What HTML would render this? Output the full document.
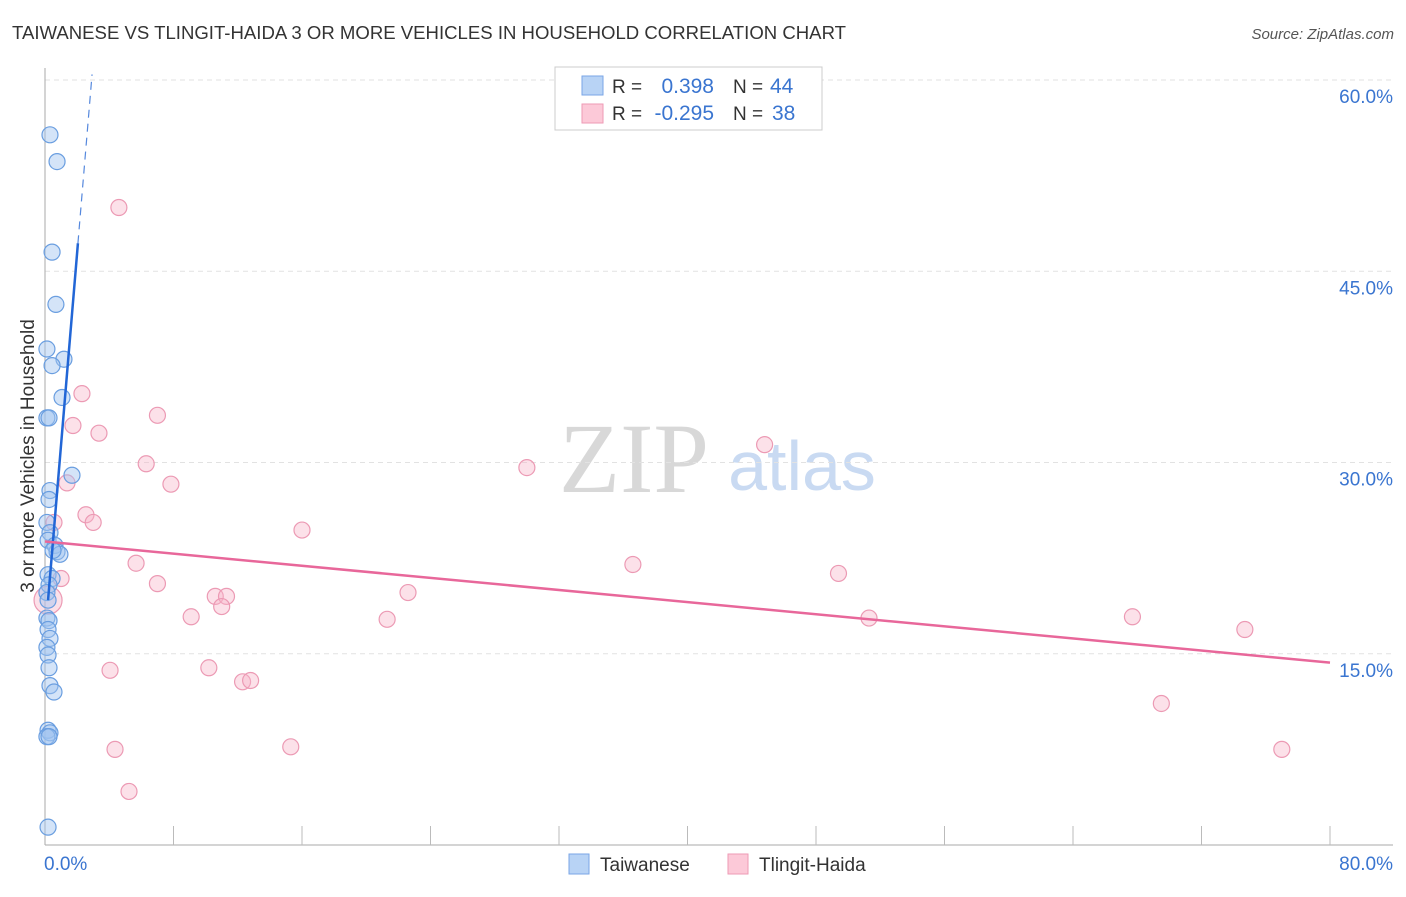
<!DOCTYPE html>
<html><head><meta charset="utf-8"><style>
body{margin:0;background:#fff;font-family:"Liberation Sans",sans-serif;}
</style></head><body>
<svg id="c" width="1406" height="892" xmlns="http://www.w3.org/2000/svg" font-family="Liberation Sans, sans-serif">
<text x="12" y="39" font-size="18" fill="#333" textLength="834" lengthAdjust="spacingAndGlyphs">TAIWANESE VS TLINGIT-HAIDA 3 OR MORE VEHICLES IN HOUSEHOLD CORRELATION CHART</text>
<text x="1394" y="39" font-size="15" fill="#555" font-style="italic" text-anchor="end">Source: ZipAtlas.com</text>
<text x="634" y="492" font-size="100" fill="#d8d8d8" style="font-family:'Liberation Serif',serif" text-anchor="middle">ZIP</text>
<text x="802" y="490" font-size="70" fill="#c9daf2" text-anchor="middle">atlas</text>
<text transform="translate(34,456) rotate(-90)" font-size="19" fill="#333" text-anchor="middle">3 or more Vehicles in Household</text>
<g id="grid"></g><g id="marks"></g>
<g>
<rect x="555" y="67" width="267" height="63" fill="#fff" stroke="#ccc"/>
<rect x="582" y="76" width="21" height="19" fill="#b8d3f5" stroke="#7aa6e6"/>
<rect x="582" y="104" width="21" height="19" fill="#fcc9d8" stroke="#ee9ab5"/>
<text x="612" y="93" font-size="19" fill="#333">R =</text><text x="714" y="93" font-size="21" fill="#3a75d0" text-anchor="end">0.398</text>
<text x="733" y="93" font-size="19" fill="#333">N =</text><text x="770" y="93" font-size="21" fill="#3a75d0">44</text>
<text x="612" y="120" font-size="19" fill="#333">R =</text><text x="714" y="120" font-size="21" fill="#3a75d0" text-anchor="end">-0.295</text>
<text x="733" y="120" font-size="19" fill="#333">N =</text><text x="772" y="120" font-size="21" fill="#3a75d0">38</text>
</g>
<g>
<rect x="569" y="854" width="20" height="20" fill="#b8d3f5" stroke="#7aa6e6"/>
<text x="600" y="871" font-size="19" fill="#333">Taiwanese</text>
<rect x="728" y="854" width="20" height="20" fill="#fcc9d8" stroke="#ee9ab5"/>
<text x="759" y="871" font-size="19" fill="#333">Tlingit-Haida</text>
</g>
</svg>
<script>
const yTicks=[15,30,45,60];
const xTickLabels=["0.0%","80.0%"];
const blueX=[0.31,0.75,0.44,0.68,0.12,1.18,0.44,1.06,0.12,0.25,1.68,0.31,0.25,0.12,0.31,0.19,0.62,0.75,0.93,0.5,0.19,0.44,0.25,0.12,0.19,0.12,0.25,0.19,0.31,0.12,0.19,0.25,0.31,0.56,0.19,0.31,0.12,0.25,0.19];
const blueY=[55.7,53.6,46.5,42.4,38.9,38.1,37.6,35.1,33.5,33.5,29.0,27.8,27.1,25.3,24.5,23.9,23.5,23.0,22.8,23.1,21.2,20.9,20.4,19.8,19.2,17.8,17.6,16.9,16.2,15.5,14.9,13.9,12.5,12.0,9.0,8.8,8.5,8.5,1.4];
const pinkX=[4.6,2.3,7.0,1.74,3.36,44.8,6.3,30.0,1.37,7.84,2.55,0.56,3.0,16.0,5.67,36.6,49.4,1.0,7.0,22.6,10.6,11.3,11.0,0.19,9.1,21.3,51.3,67.7,74.7,4.05,10.2,12.3,12.8,69.5,15.3,4.36,77.0,5.23];
const pinkY=[50.0,35.4,33.7,32.9,32.3,31.4,29.9,29.6,28.4,28.3,25.9,25.3,25.3,24.7,22.1,22.0,21.3,20.9,20.5,19.8,19.5,19.5,18.7,19.2,17.9,17.7,17.8,17.9,16.9,13.7,13.9,12.8,12.9,11.1,7.7,7.5,7.5,4.2];
const blueTrend=[19.2,15.05];
const blueTrendRange=[0.19,2.05,2.93];
const pinkTrend=[23.8,14.3];
const X=v=>45+v/80*1285, Y=v=>845-v/60*765;
const NS="http://www.w3.org/2000/svg";
const g=document.getElementById('grid'), m=document.getElementById('marks');
function mk(tag,attrs,parent){const e=document.createElementNS(NS,tag);for(const k in attrs)e.setAttribute(k,attrs[k]);parent.appendChild(e);return e;}
yTicks.forEach(t=>{
  const l=mk('line',{x1:45,x2:1393,y1:Y(t),y2:Y(t),stroke:'#e2e2e2','stroke-dasharray':'5,4'},g);
  
  
  const tx=mk('text',{x:1393,y:Y(t)+23,'font-size':19,fill:'#3a75d0','text-anchor':'end'},g);
  tx.textContent=t.toFixed(1)+'%';
  
  
});
const ax=mk('line',{x1:45,x2:45,y1:68,y2:845,stroke:'#aaa'},g);


const bx=mk('line',{x1:45,x2:1393,y1:845,y2:845,stroke:'#aaa'},g);


for(let i=1;i<=10;i++){const t=mk('line',{x1:X(i*8),x2:X(i*8),y1:826,y2:845,stroke:'#bbb'},g);
  
  }
[[0,'start',44],[80,'end',1393]].forEach((d,i)=>{const t=mk('text',{x:d[2],y:870,'font-size':19,fill:'#3a75d0','text-anchor':d[1]},g);t.textContent=xTickLabels[i];
  
  });
pinkX.forEach((x,i)=>{const c=mk('circle',{cx:X(x),cy:Y(pinkY[i]),r:i==23?14:8,fill:'rgba(248,180,200,0.4)',stroke:'#ec9ab4','stroke-width':1.2},m);
  
  });
blueX.forEach((x,i)=>{const c=mk('circle',{cx:X(x),cy:Y(blueY[i]),r:8,fill:'rgba(160,195,240,0.45)',stroke:'#6a9ee0','stroke-width':1.2},m);
  
  });
const bf=x=>blueTrend[0]+blueTrend[1]*(x-blueTrendRange[0]);
const bl=mk('line',{x1:X(blueTrendRange[0]),y1:Y(bf(blueTrendRange[0])),x2:X(blueTrendRange[1]),y2:Y(bf(blueTrendRange[1])),stroke:'#2266d6','stroke-width':2.5},m);


const bd=mk('line',{x1:X(blueTrendRange[1]),y1:Y(bf(blueTrendRange[1])),x2:X(blueTrendRange[2]),y2:Y(bf(blueTrendRange[2])),stroke:'#5588dd','stroke-width':1.2,'stroke-dasharray':'8,6'},m);


const pl=mk('line',{x1:X(0),y1:Y(pinkTrend[0]),x2:X(80),y2:Y(pinkTrend[1]),stroke:'#e8679a','stroke-width':2.5},m);


</script>
</body></html>
